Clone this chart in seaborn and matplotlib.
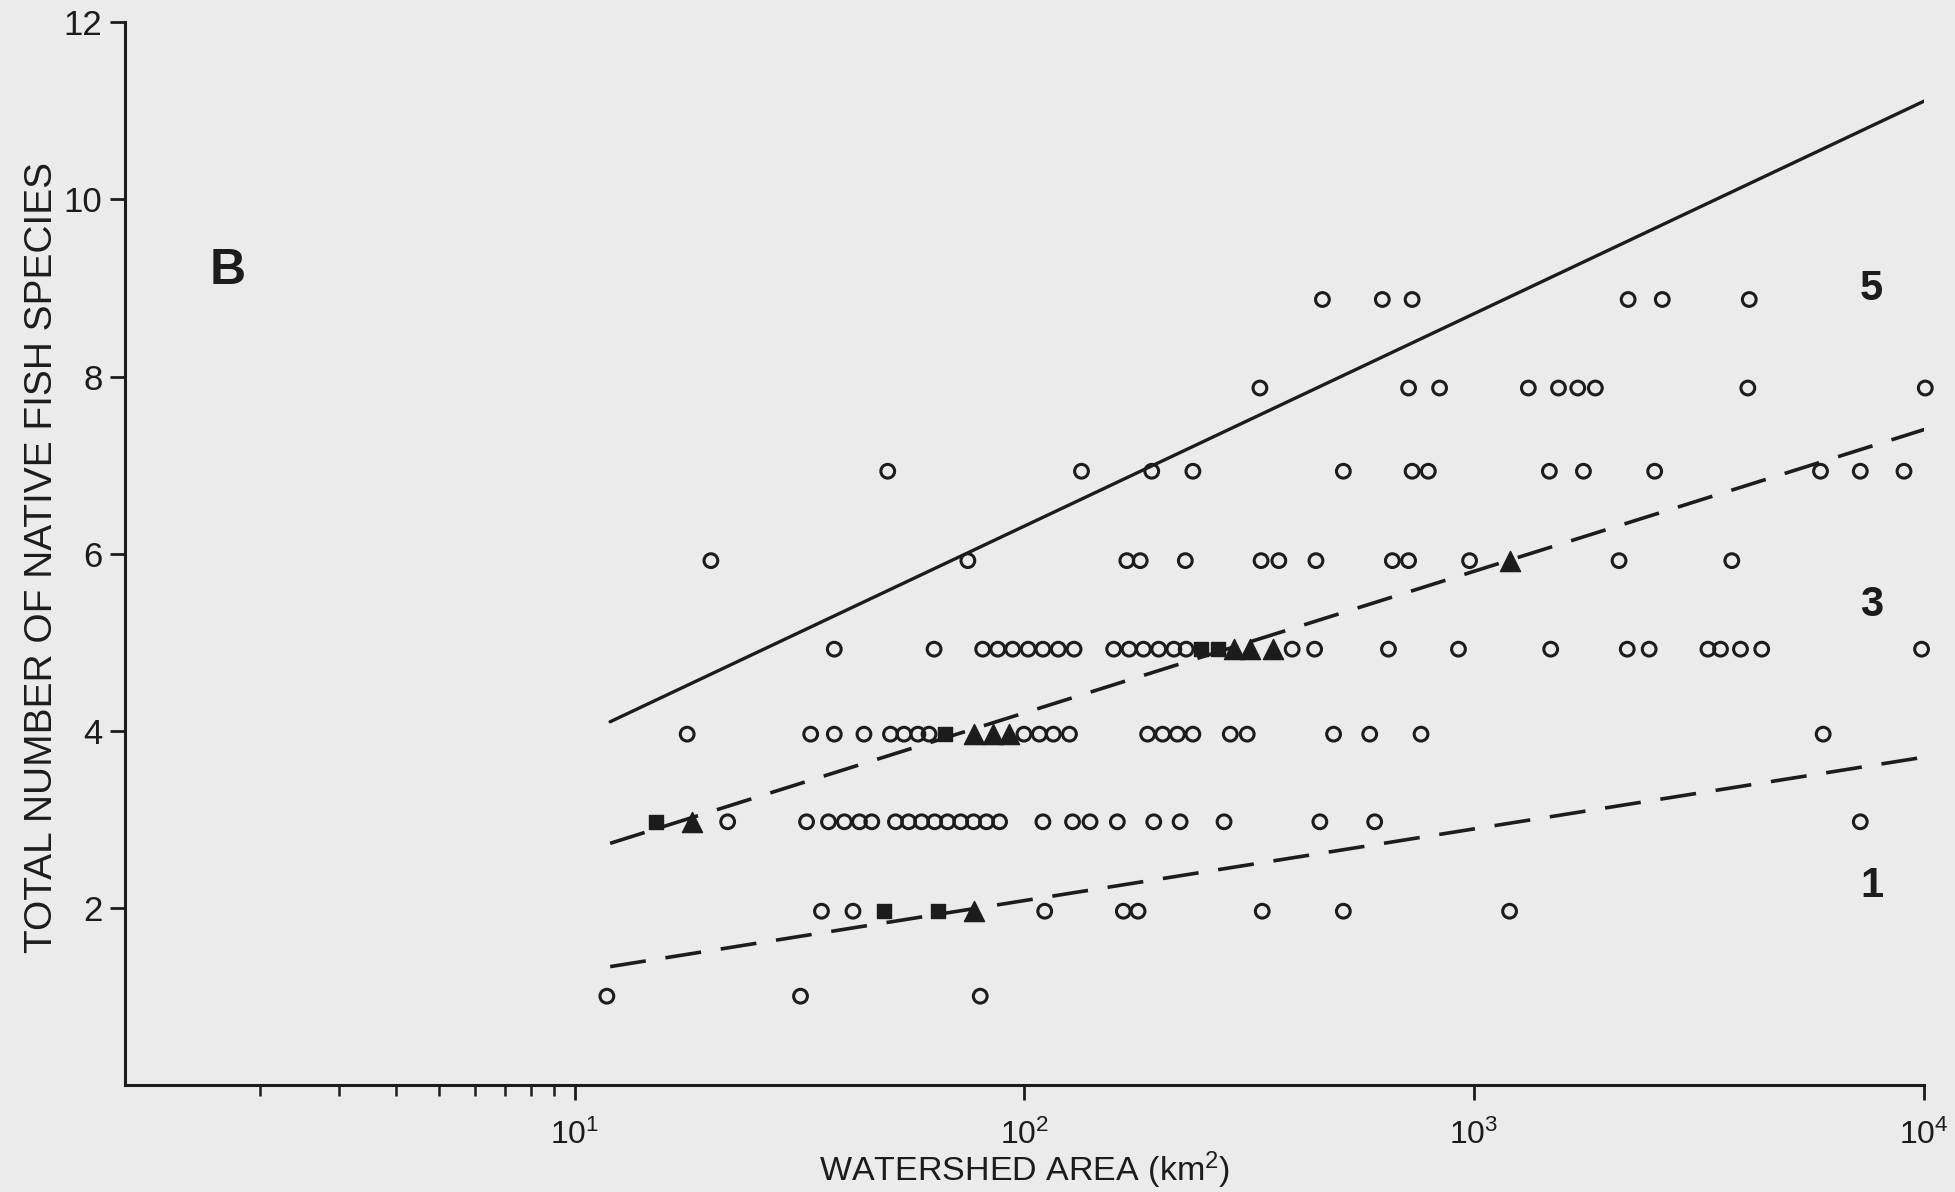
import numpy as np
import pandas as pd
import matplotlib
matplotlib.use("Agg")
import matplotlib.pyplot as plt
import seaborn as sns
from matplotlib.ticker import FixedLocator, NullFormatter

# Species level of each row of symbols (as plotted)
SPECIES = [1.0, 1.96, 2.97, 3.96, 4.92, 5.92, 6.93, 7.87, 8.87]

# Watershed areas (km2) of open-circle sites, one list per species row
OPEN_1 = [11.8, 31.8, 79.8]
OPEN_2 = [35.4, 41.6, 111, 166, 179, 338, 512, 1199]
OPEN_3 = [21.9, 32.8, 36.7, 39.8, 43.0, 45.8, 51.7, 55.3, 59.1, 63.2, 67.5,
          72.2, 77.1, 82.4, 88.1, 110, 128, 140, 161, 194, 222, 278, 454,
          601, 7220]
OPEN_4 = [17.8, 33.5, 37.8, 44.0, 50.4, 54.0, 58.0, 61.4, 99.8, 108, 116,
          126, 188, 203, 219, 237, 287, 313, 487, 586, 762, 5970]
OPEN_5 = [37.8, 63.0, 80.8, 87.3, 94.2, 102, 110, 119, 129, 158, 171, 184,
          199, 215, 229, 394, 442, 645, 923, 1480, 2190, 2450, 3310, 3530,
          3910, 4360, 9880]
OPEN_6 = [20.1, 74.9, 169, 181, 228, 336, 368, 445, 658, 715, 977, 2100, 3740]
OPEN_7 = [49.7, 134, 192, 237, 512, 728, 791, 1470, 1750, 2520, 5890, 7220,
          9030]
OPEN_8 = [334, 715, 838, 1320, 1540, 1700, 1860, 4060, 10070]
OPEN_9 = [460, 625, 728, 2200, 2620, 4090]
OPEN_ROWS = [OPEN_1, OPEN_2, OPEN_3, OPEN_4, OPEN_5, OPEN_6, OPEN_7, OPEN_8,
             OPEN_9]

# Filled symbols
SQUARE_AREA = [48.8, 64.2, 15.2, 66.7, 247, 269]
SQUARE_SPECIES = [1.96, 1.96, 2.97, 3.96, 4.92, 4.92]
TRIANGLE_AREA = [77.3, 18.2, 77.3, 85.1, 92.4, 292, 317, 358, 1199]
TRIANGLE_SPECIES = [1.96, 2.97, 3.96, 3.96, 3.96, 4.92, 4.92, 4.92, 5.92]

# Fitted lines: species = intercept + slope * log10(area)
FIT_AREA = [12, 10200]
FIT_INTERCEPT = [1.51, 1.00, 0.46]
FIT_SLOPE = [2.40, 1.60, 0.81]
FIT_STYLE = ["solid", "dashed", "dashed"]
FIT_LABELS = ["5", "3", "1"]
FIT_LABEL_Y = [8.99, 5.42, 2.25]
FIT_LABEL_X = 7650

X_TICKS = [10, 100, 1000, 10000]
X_TICK_LABELS = [r"$\mathregular{10^{1}}$", r"$\mathregular{10^{2}}$",
                 r"$\mathregular{10^{3}}$", r"$\mathregular{10^{4}}$"]
Y_TICKS = [2, 4, 6, 8, 10, 12]

PAPER = "#ebebeb"
INK = "#1c1c1c"

sns.set_theme(style="white")
plt.rcParams["font.family"] = ["Liberation Sans", "DejaVu Sans"]
plt.rcParams["mathtext.fontset"] = "custom"
plt.rcParams["mathtext.rm"] = "Liberation Sans"

open_df = pd.DataFrame({
    "area": [a for row in OPEN_ROWS for a in row],
    "species": [s for s, row in zip(SPECIES, OPEN_ROWS) for _ in row],
})
square_df = pd.DataFrame({"area": SQUARE_AREA, "species": SQUARE_SPECIES})
tri_df = pd.DataFrame({"area": TRIANGLE_AREA, "species": TRIANGLE_SPECIES})

fig = plt.figure(figsize=(19.55, 11.92), dpi=100, facecolor=PAPER)
ax = fig.add_axes([0.0638, 0.090, 0.9203, 0.8912])
ax.set_facecolor(PAPER)
ax.set_xscale("log")

# Regression lines
for b0, b1, style in zip(FIT_INTERCEPT, FIT_SLOPE, FIT_STYLE):
    fit = pd.DataFrame({"area": FIT_AREA,
                        "species": [b0 + b1 * np.log10(a) for a in FIT_AREA]})
    kw = dict(color=INK, linewidth=2.4, zorder=2)
    if style == "dashed":
        kw.update(dashes=(10, 5.5), linewidth=2.6)
    sns.lineplot(data=fit, x="area", y="species", ax=ax, **kw)

sns.scatterplot(data=open_df, x="area", y="species", ax=ax, marker="o",
                s=98, facecolors="none", edgecolor=INK, linewidth=2.2,
                zorder=3, clip_on=False)
sns.scatterplot(data=square_df, x="area", y="species", ax=ax, marker="s",
                s=105, color=INK, edgecolor=INK, linewidth=1.0, zorder=4,
                clip_on=False)
sns.scatterplot(data=tri_df, x="area", y="species", ax=ax, marker="^",
                s=210, color=INK, edgecolor=INK, linewidth=1.0, zorder=4,
                clip_on=False)

for lab, ly in zip(FIT_LABELS, FIT_LABEL_Y):
    ax.text(FIT_LABEL_X, ly, lab, fontsize=30, fontweight="bold", color=INK,
            ha="center", va="center")
ax.text(0.0575, 0.766, "B", transform=ax.transAxes, fontsize=36,
        fontweight="bold", color=INK, ha="center", va="center")

ax.set_xlim(1, 10000)
ax.set_ylim(0, 12)
ax.xaxis.set_major_locator(FixedLocator(X_TICKS))
ax.set_xticklabels(X_TICK_LABELS)
ax.xaxis.set_minor_locator(FixedLocator([2, 3, 4, 5, 6, 7, 8, 9]))
ax.xaxis.set_minor_formatter(NullFormatter())
ax.set_yticks(Y_TICKS)
ax.set_yticklabels([str(t) for t in Y_TICKS])

for side in ["top", "right"]:
    ax.spines[side].set_visible(False)
for side in ["left", "bottom"]:
    ax.spines[side].set_linewidth(2.2)
    ax.spines[side].set_color(INK)

ax.tick_params(axis="both", which="major", direction="out", length=11,
               width=2.0, color=INK, labelcolor=INK, pad=5)
ax.tick_params(axis="y", which="major", labelsize=25)
ax.tick_params(axis="x", which="major", labelsize=23, pad=14)
ax.tick_params(axis="x", which="minor", direction="out", length=8, width=1.8,
               color=INK)
ax.tick_params(left=True, bottom=True, which="both")

ax.set_xlabel(r"WATERSHED AREA (km$\mathregular{^2}$)", fontsize=24.5,
              color=INK, va="baseline")
ax.xaxis.set_label_coords(0.5, -0.0905)
ax.set_ylabel("TOTAL NUMBER OF NATIVE FISH SPECIES", fontsize=28, color=INK)
ax.yaxis.set_label_coords(-0.036, 0.496)

fig.savefig("out.png", dpi=100, facecolor=PAPER)
